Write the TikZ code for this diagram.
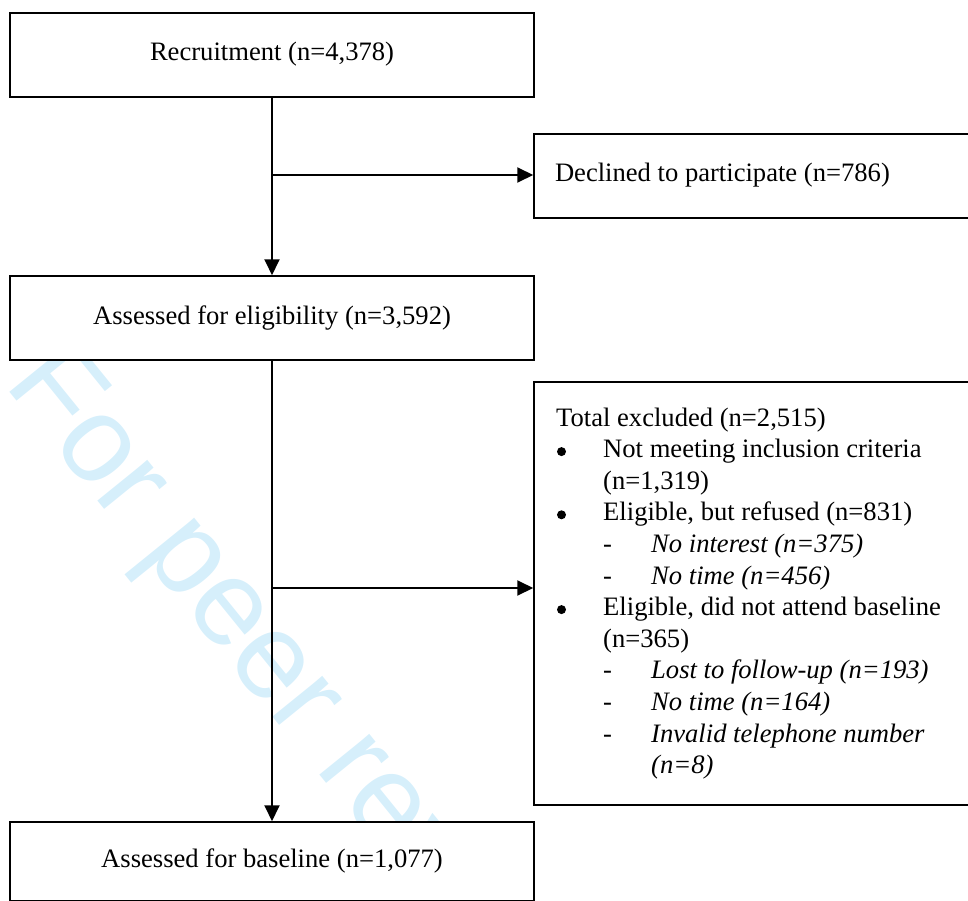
\documentclass[tikz,border=0pt]{standalone}
\usepackage{fontspec}
\setmainfont{Liberation Serif}
\newfontfamily\wmfont{Liberation Sans}
\usetikzlibrary{arrows.meta}
\definecolor{wmblue}{RGB}{214,239,251}
\tikzset{
  mainfont/.style={font=\fontsize{26.6}{31.6}\selectfont},
  box/.style={draw, line width=1.5pt, fill=white, inner sep=0pt,
    text height=18pt, text depth=6pt, mainfont},
  bigbox/.style={box, minimum width=524pt, minimum height=84pt},
  sidebox/.style={box, minimum width=436pt, inner xsep=21pt},
  line/.style={mainfont, anchor=base west, inner sep=0pt},
  bul/.style={circle, fill, minimum size=9pt, inner sep=0pt},
  conn/.style={line width=1.9pt, -{Triangle[length=16pt,width=15pt]}},
}
\begin{document}
\begin{tikzpicture}[x=1pt,y=1pt]
\useasboundingbox (0,0) rectangle (968,-901);
% watermark
\node[anchor=base west, rotate=-51, inner sep=0pt, text=wmblue,
  font=\wmfont\fontsize{122}{144}\selectfont] (wm) at (3,-384) {For peer review};
% main boxes
\node[bigbox] (recr) at (272,-55) {Recruitment (n=4,378)};
\node[bigbox] (elig) at (272,-318) {Assessed for eligibility (n=3,592)};
\node[box, minimum width=524pt, minimum height=79pt] (base) at (272,-861.5) {Assessed for baseline (n=1,077)};
% side boxes
\node[sidebox, minimum height=84pt] (decl) at (752,-176) {\makebox[394pt][l]{Declined to participate (n=786)}};
\node[draw, line width=1.5pt, fill=white, minimum width=436pt, minimum height=423pt, inner sep=0pt] (excl) at (752,-593.5) {};
% excluded list
\node[line] (l1) at (556,-426) {Total excluded (n=2,515)};
\node[bul] (b1) at (561.5,-451.6) {};
\node[line] (l2) at (603,-457.6) {Not meeting inclusion criteria};
\node[line] (l3) at (603,-489.2) {(n=1,319)};
\node[bul] (b2) at (561.5,-514.8) {};
\node[line] (l4) at (603,-520.8) {Eligible, but refused (n=831)};
\node[line] (d1) at (603,-552.4) {-};
\node[line] (l5) at (651,-552.4) {\itshape No interest (n=375)};
\node[line] (d2) at (603,-584.0) {-};
\node[line] (l6) at (651,-584.0) {\itshape No time (n=456)};
\node[bul] (b3) at (561.5,-609.6) {};
\node[line] (l7) at (603,-615.6) {Eligible, did not attend baseline};
\node[line] (l8) at (603,-647.2) {(n=365)};
\node[line] (d3) at (603,-678.8) {-};
\node[line] (l9) at (651,-678.8) {\itshape Lost to follow-up (n=193)};
\node[line] (d4) at (603,-710.4) {-};
\node[line] (l10) at (651,-710.4) {\itshape No time (n=164)};
\node[line] (d5) at (603,-742.0) {-};
\node[line] (l11) at (651,-742.0) {\itshape Invalid telephone number};
\node[line] (l12) at (651,-773.6) {\itshape (n=8)};
% connectors
\coordinate (j1) at (272,-175);
\coordinate (j2) at (272,-588);
\draw[conn] (recr.south) -- (elig.north);
\draw[conn] (j1) -- (j1 -| decl.west);
\draw[conn] (elig.south) -- (base.north);
\draw[conn] (j2) -- (j2 -| excl.west);
\end{tikzpicture}
\end{document}
